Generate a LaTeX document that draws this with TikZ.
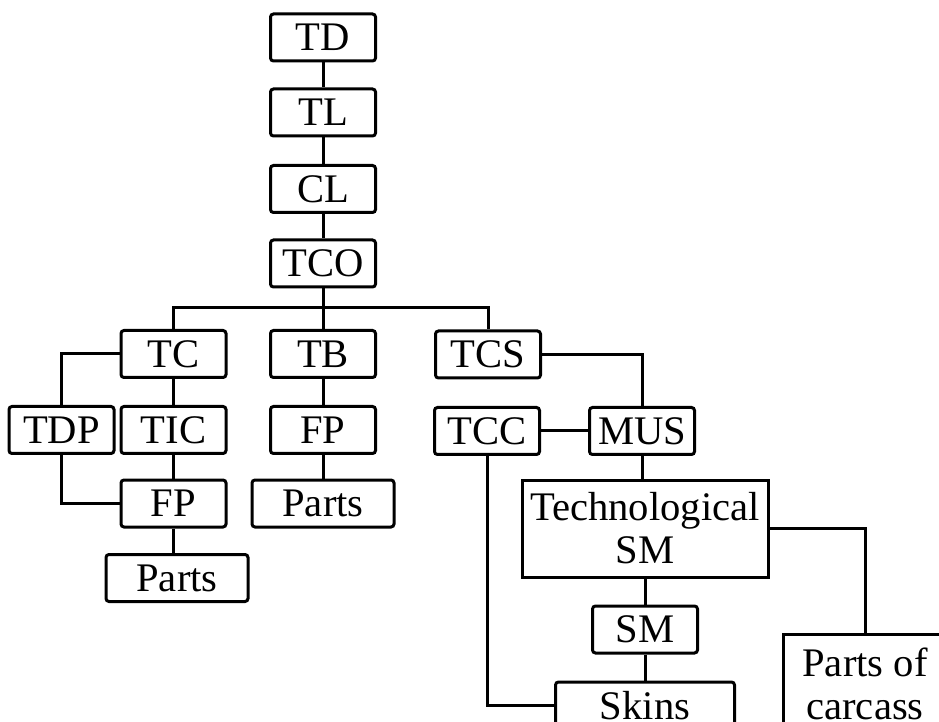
\documentclass[tikz,border=0pt]{standalone}
\usepackage{fontspec}
\setmainfont{Liberation Serif}
\usetikzlibrary{positioning}

\begin{document}
\begin{tikzpicture}[x=0.5pt,y=-0.5pt,
    box/.style={draw, rounded corners=1.5pt, line width=1.5pt, inner sep=0pt,
      minimum width=52.5pt, minimum height=23.5pt, align=center,
      font=\fontsize{20.3}{21.5}\selectfont},
    widebox/.style={box, minimum width=71pt},
    bigbox/.style={box, sharp corners},
    link/.style={line width=1.5pt}]
    \clip (0,0) rectangle (939,722);
    % main chain
    \node[box] (td) at (323,37.5) {TD};
    \node[box] (tl) at (323,112.5) {TL};
    \node[box] (cl) at (323,189) {CL};
    \node[box] (tco) at (323,263.5) {TCO};
    \coordinate (bus) at (323,308);
    % second level
    \node[box] (tc) at (173.5,354) {TC};
    \node[box] (tb) at (323,354) {TB};
    \node[box] (tcs) at (488,354.5) {TCS};
    \node[box] (tdp) at (61.5,430) {TDP};
    \node[box] (tic) at (173.5,430) {TIC};
    \node[box] (fpa) at (173.5,503.5) {FP};
    \node[widebox] (partsa) at (177,578) {Parts};
    \node[box] (fpb) at (323,430) {FP};
    \node[widebox] (partsb) at (323,503.5) {Parts};
    % right branch
    \node[box] (tcc) at (487,431) {TCC};
    \node[box] (mus) at (642,431) {MUS};
    \node[bigbox, minimum width=123pt, minimum height=48.5pt] (tsm) at (645,528.5) {Technological\\SM};
    \node[box] (sm) at (645,629.5) {SM};
    \node[box, minimum width=89.5pt] (skins) at (645,705.5) {Skins};
    \node[bigbox, minimum width=82pt, minimum height=50pt] (carcass) at (865,684) {Parts of\\carcass};

    \draw[link] (td) -- (tl) -- (cl) -- (tco) -- (tb);
    \draw[link] (tc.north) |- (bus) -| (tcs.north);
    \draw[link] (tc.west) -| (tdp.north);
    \draw[link] (tdp.south) |- (fpa.west);
    \draw[link] (tc) -- (tic) -- (fpa);
    \draw[link] (fpa.south) -- (fpa.south |- partsa.north);
    \draw[link] (tb) -- (fpb) -- (partsb);
    \draw[link] (tcs.east) -| (mus.north);
    \draw[link] (tcc) -- (mus);
    \draw[link] (tcc.south) |- (skins.west);
    \draw[link] (mus.south) -- (mus.south |- tsm.north);
    \draw[link] (tsm) -- (sm) -- (skins);
    \draw[link] (tsm.east) -| (carcass.north);
\end{tikzpicture}
\end{document}
